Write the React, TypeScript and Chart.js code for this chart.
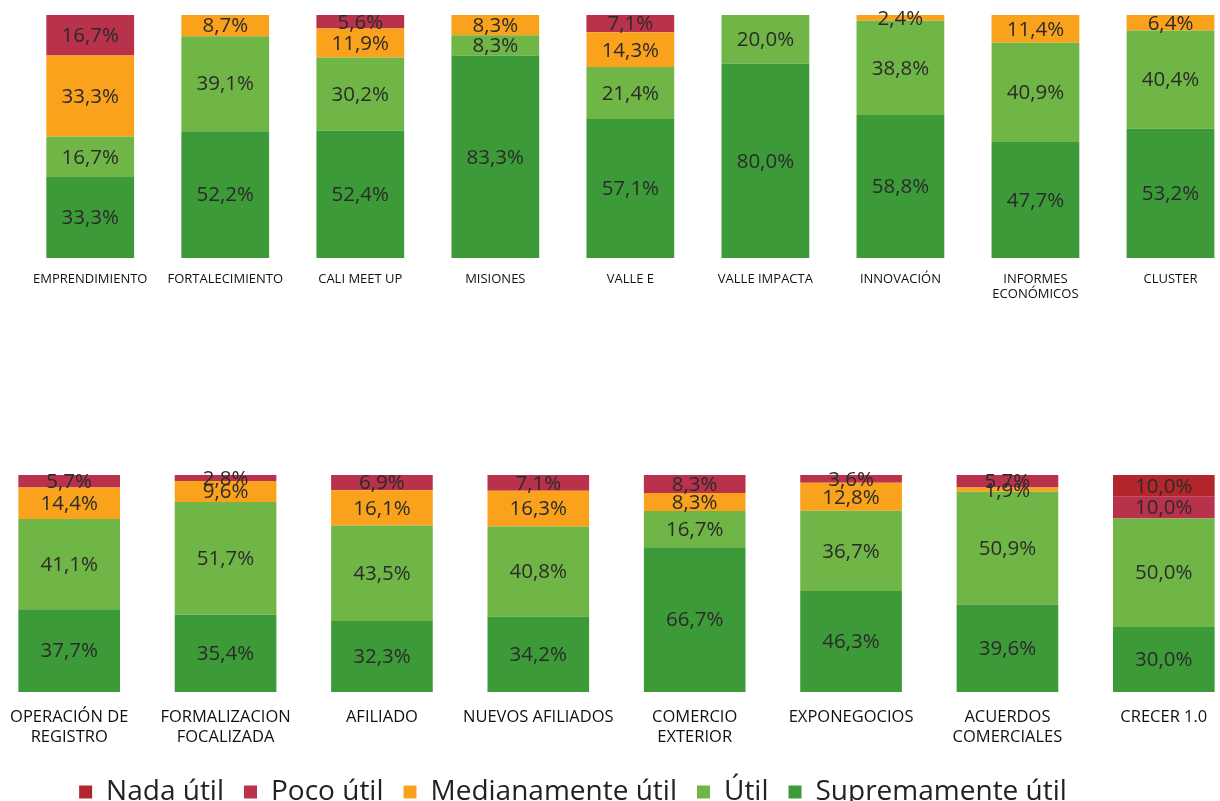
import React, { useEffect, useRef } from "react";
import { Chart, registerables } from "chart.js";

Chart.register(...registerables);

// ---------- data ----------
const seriesNames = ["Nada útil", "Poco útil", "Medianamente útil", "Útil", "Supremamente útil"];
const seriesColors = ["#B3262C", "#B9324B", "#FAA21C", "#70B646", "#3D9A39"];

const topCategories = [
  ["EMPRENDIMIENTO"],
  ["FORTALECIMIENTO"],
  ["CALI MEET UP"],
  ["MISIONES"],
  ["VALLE E"],
  ["VALLE IMPACTA"],
  ["INNOVACIÓN"],
  ["INFORMES", "ECONÓMICOS"],
  ["CLUSTER"],
];
const topNada = [0, 0, 0, 0, 0, 0, 0, 0, 0];
const topPoco = [16.7, 0, 5.6, 0, 7.1, 0, 0, 0, 0];
const topMedia = [33.3, 8.7, 11.9, 8.3, 14.3, 0, 2.4, 11.4, 6.4];
const topUtil = [16.7, 39.1, 30.2, 8.3, 21.4, 20.0, 38.8, 40.9, 40.4];
const topSuprema = [33.3, 52.2, 52.4, 83.3, 57.1, 80.0, 58.8, 47.7, 53.2];

const bottomCategories = [
  ["OPERACIÓN DE", "REGISTRO"],
  ["FORMALIZACION", "FOCALIZADA"],
  ["AFILIADO"],
  ["NUEVOS AFILIADOS"],
  ["COMERCIO", "EXTERIOR"],
  ["EXPONEGOCIOS"],
  ["ACUERDOS", "COMERCIALES"],
  ["CRECER 1.0"],
];
const bottomNada = [0, 0, 0, 0, 0, 0, 0, 10.0];
const bottomPoco = [5.7, 2.8, 6.9, 7.1, 8.3, 3.6, 5.7, 10.0];
const bottomMedia = [14.4, 9.6, 16.1, 16.3, 8.3, 12.8, 1.9, 0];
const bottomUtil = [41.1, 51.7, 43.5, 40.8, 16.7, 36.7, 50.9, 50.0];
const bottomSuprema = [37.7, 35.4, 32.3, 34.2, 66.7, 46.3, 39.6, 30.0];

const FONT = "'Open Sans', 'DejaVu Sans', sans-serif";

// ---------- helpers ----------
function buildDatasets(series: number[][]) {
  // series given in legend order (Nada..Suprema); stacked bottom-up = reversed
  const n = series[0].length;
  const totals = Array.from({ length: n }, (_, i) => series.reduce((s, arr) => s + arr[i], 0));
  const order = [4, 3, 2, 1, 0];
  return order.map((si) => ({
    label: seriesNames[si],
    data: series[si].map((v, i) => (v / totals[i]) * 100),
    raw: series[si],
    backgroundColor: seriesColors[si],
    borderWidth: 0,
    barPercentage: 0.65,
    categoryPercentage: 1,
  }));
}

const valueLabelPlugin = {
  id: "valueLabels",
  afterDatasetsDraw(chart: any) {
    const ctx = chart.ctx;
    ctx.save();
    ctx.font = `20.5px ${FONT}`;
    ctx.fillStyle = "#2b2b2b";
    ctx.textAlign = "center";
    ctx.textBaseline = "middle";
    chart.data.datasets.forEach((ds: any, di: number) => {
      if (!ds.raw) return;
      const meta = chart.getDatasetMeta(di);
      meta.data.forEach((el: any, i: number) => {
        const v = ds.raw[i];
        if (!v) return;
        const txt = v.toFixed(1).replace(".", ",") + "%";
        ctx.fillText(txt, el.x, (el.y + el.base) / 2 + 1);
      });
    });
    ctx.restore();
  },
};

function makeOptions(opts: {
  padTop: number;
  axisHeight: number;
  tickFont: number;
  tickLine: number;
  tickPad: number;
}) {
  return {
    responsive: false,
    animation: false as const,
    devicePixelRatio: 1,
    layout: { padding: { top: opts.padTop, left: 0, right: 0, bottom: 0 } },
    plugins: {
      tooltip: { enabled: false },
      legend: { display: false },
    },
    scales: {
      x: {
        stacked: true,
        grid: { display: false, drawTicks: false },
        border: { display: false },
        ticks: {
          color: "#111",
          padding: opts.tickPad,
          maxRotation: 0,
          autoSkip: false,
          font: { size: opts.tickFont, family: FONT, lineHeight: opts.tickLine },
        },
        afterFit: (scale: any) => {
          scale.height = opts.axisHeight;
        },
      },
      y: {
        stacked: true,
        display: false,
        min: 0,
        max: 100,
      },
    },
  };
}

function StackedChart(props: {
  categories: string[][];
  series: number[][];
  left: number;
  top: number;
  width: number;
  height: number;
  options: any;
}) {
  const ref = useRef<HTMLCanvasElement>(null);
  useEffect(() => {
    if (!ref.current) return;
    const chart = new Chart(ref.current, {
      type: "bar",
      data: {
        labels: props.categories,
        datasets: buildDatasets(props.series) as any,
      },
      options: props.options,
      plugins: [valueLabelPlugin],
    });
    return () => chart.destroy();
  }, []);
  return (
    <canvas
      ref={ref}
      width={props.width}
      height={props.height}
      style={{
        position: "absolute",
        left: props.left,
        top: props.top,
        width: props.width,
        height: props.height,
      }}
    />
  );
}

// Legend-only chart (shared legend for both rows)
function LegendChart(props: { left: number; top: number; width: number; height: number }) {
  const ref = useRef<HTMLCanvasElement>(null);
  useEffect(() => {
    if (!ref.current) return;
    const chart = new Chart(ref.current, {
      type: "bar",
      data: {
        labels: [],
        datasets: seriesNames.map((name, i) => ({
          label: name,
          data: [],
          backgroundColor: seriesColors[i],
          borderWidth: 0,
        })),
      },
      options: {
        responsive: false,
        animation: false,
        devicePixelRatio: 1,
        layout: { padding: 0 },
        plugins: {
          tooltip: { enabled: false },
          legend: {
            display: true,
            position: "top",
            labels: {
              boxWidth: 13,
              boxHeight: 13,
              padding: 20,
              color: "#222",
              font: { size: 28, family: FONT },
            },
          },
        },
        scales: { x: { display: false }, y: { display: false } },
      } as any,
    });
    return () => chart.destroy();
  }, []);
  return (
    <canvas
      ref={ref}
      width={props.width}
      height={props.height}
      style={{
        position: "absolute",
        left: props.left,
        top: props.top,
        width: props.width,
        height: props.height,
      }}
    />
  );
}

export default function App() {
  return (
    <div
      style={{
        position: "fixed",
        left: 0,
        top: 0,
        width: 1220,
        height: 801,
        overflow: "hidden",
        background: "#ffffff",
      }}
    >
      <StackedChart
        categories={topCategories}
        series={[topNada, topPoco, topMedia, topUtil, topSuprema]}
        left={19}
        top={0}
        width={1219}
        height={310}
        options={makeOptions({ padTop: 15, axisHeight: 52, tickFont: 13, tickLine: 1.15, tickPad: 14 })}
      />
      <StackedChart
        categories={bottomCategories}
        series={[bottomNada, bottomPoco, bottomMedia, bottomUtil, bottomSuprema]}
        left={-9}
        top={460}
        width={1251}
        height={297}
        options={makeOptions({ padTop: 15, axisHeight: 65, tickFont: 16.5, tickLine: 1.21, tickPad: 15 })}
      />
      <LegendChart left={0} top={758} width={1146} height={90} />
    </div>
  );
}
